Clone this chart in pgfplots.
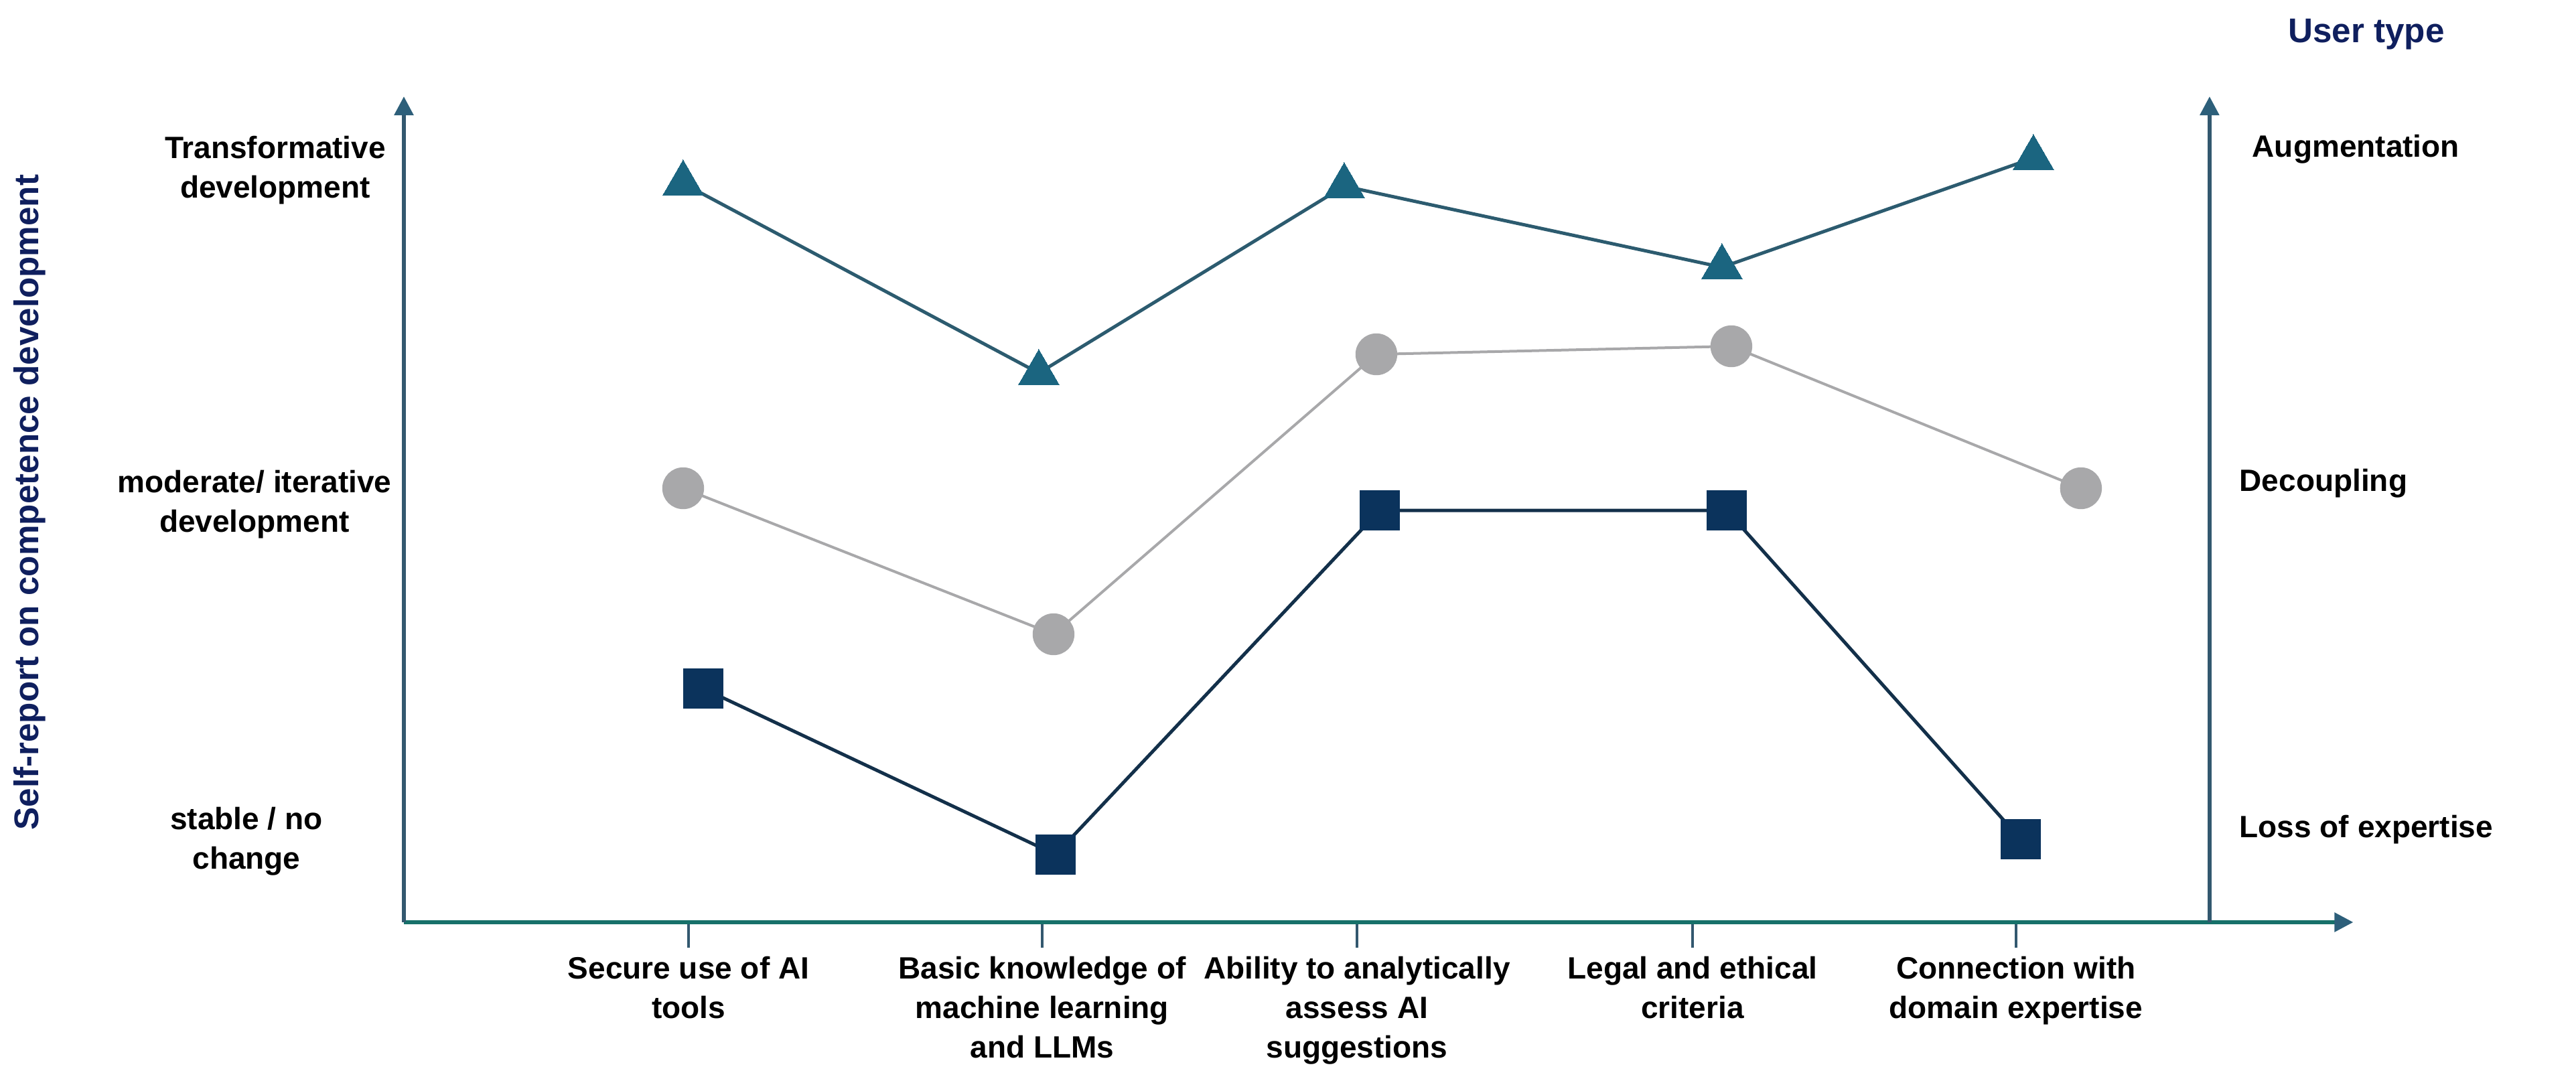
\documentclass[border=0pt]{standalone}
\usepackage{pgfplots}
\pgfplotsset{compat=1.18}
\usepackage{fontspec}
\setmainfont{Liberation Sans}
\usetikzlibrary{arrows.meta}

\definecolor{triC}{HTML}{1B6580}
\definecolor{triL}{HTML}{2C5B6F}
\definecolor{cirC}{HTML}{A8A8AA}
\definecolor{sqC}{HTML}{0B335C}
\definecolor{sqL}{HTML}{13304A}
\definecolor{yaxC}{HTML}{33586F}
\definecolor{xaxC}{HTML}{17716A}
\definecolor{tipC}{HTML}{2D5F7A}
\definecolor{navy}{HTML}{0F1F5E}

\begin{document}
\begin{tikzpicture}
\useasboundingbox (-150.75pt,-60.5pt) rectangle (810.75pt,344.25pt);
\begin{axis}[
    at={(0,0)}, anchor=south west,
    scale only axis,
    width=727.6pt, height=308.25pt,
    xmin=603, xmax=3513.5,
    ymin=0, ymax=1233,
    axis lines=left,
    x axis line style={xaxC, line width=1.4pt, -{Triangle[length=7pt,width=7pt,color=tipC]}},
    y axis line style={yaxC, line width=1.4pt, -{Triangle[length=7pt,width=7pt,color=tipC]}},
    xtick={1028,1556,2026,2527,3010},
    xticklabels={{Secure use of AI\\tools},
                 {Basic knowledge of\\machine learning\\and LLMs},
                 {Ability to analytically\\assess AI\\suggestions},
                 {Legal and ethical\\criteria},
                 {Connection with\\domain expertise}},
    ytick=\empty,
    tick align=outside,
    major tick length=9.5pt,
    xtick style={yaxC, line width=1pt},
    xticklabel style={align=center, font=\fontsize{11.5}{14.8}\selectfont\bfseries, text=black, inner sep=0pt, yshift=-3pt},
    clip=false,
]
% Augmentation
\addplot[triL, line width=1.25pt, mark=triangle*, mark size=8.8pt,
         mark options={fill=triC, draw=triC, line width=0pt}]
  coordinates {(1020,1103) (1551,820) (2007,1099) (2571,978) (3036,1141)};
% Decoupling
\addplot[cirC, line width=1pt, mark=*, mark size=7.3pt,
         mark options={fill=cirC, draw=cirC}]
  coordinates {(1020,648) (1573,430) (2055,848) (2585,860) (3107,648)};
% Loss of expertise
\addplot[sqL, line width=1.25pt, mark=square*, mark size=7.4pt,
         mark options={fill=sqC, draw=sqC, line width=0pt}]
  coordinates {(1050,349) (1576,101) (2060,615) (2578,615) (3017,124)};

% second (right) axis
\draw[yaxC, line width=1.4pt, -{Triangle[length=7pt,width=7pt,color=tipC]}]
  (axis cs:3299,0) -- (axis cs:3299,1233);

\begin{scope}[every node/.style={font=\fontsize{11.5}{14.75}\selectfont\bfseries, align=center, inner sep=0pt}]
\node at (axis cs:411,1123) {Transformative\\development};
\node at (axis cs:380,624) {moderate/ iterative\\development};
\node at (axis cs:368,121) {stable / no\\change};
\node[anchor=west] at (axis cs:3362,1154) {Augmentation};
\node[anchor=west] at (axis cs:3343,655) {Decoupling};
\node[anchor=west] at (axis cs:3343,138) {Loss of expertise};
\end{scope}
\node[font=\fontsize{12.8}{15}\selectfont\bfseries, text=navy, inner sep=0pt] at (axis cs:3533,1326) {User type};
\node[font=\fontsize{12.8}{15}\selectfont\bfseries, text=navy, rotate=90, inner sep=0pt] at (axis cs:44,627) {Self-report on competence development};
\end{axis}
\end{tikzpicture}
\end{document}
